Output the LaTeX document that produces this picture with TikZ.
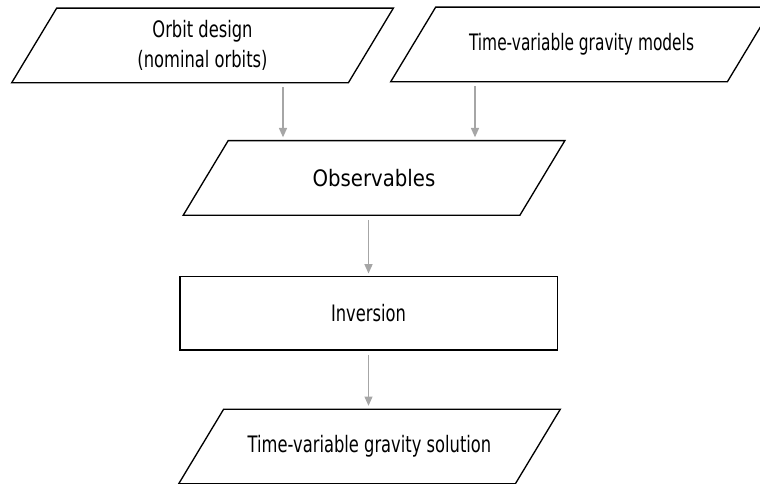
\documentclass[tikz,border=0pt]{standalone}
\usepackage{fontspec}
\setmainfont{DejaVu Sans}
\newfontfamily\slimfont{DejaVu Sans}[FakeStretch=0.72]
\newfontfamily\slimmerfont{DejaVu Sans}[FakeStretch=0.68]
\newfontfamily\widefont{DejaVu Sans}[FakeStretch=0.87]
\usetikzlibrary{arrows.meta,calc}

% slanted outline round a named node
\newcommand{\slantframe}[1]{%
        \draw[frame] ($(#1.north west)+(22.5, 0)$) -- ($(#1.north east)+(22.5, 0)$)
                -- ($(#1.south east)+(-22.5, 0)$) -- ($(#1.south west)+(-22.5, 0)$) -- cycle;}

\begin{document}
\begin{tikzpicture}[x=0.75pt, y=-0.75pt]
        \tikzstyle{frame}=[draw, line width=1pt, line join=miter]
        \tikzstyle{databox}=[shape=rectangle, minimum width=252.5pt, minimum height=56pt, inner sep=0pt,
                outer sep=0pt, align=center, font=\fontsize{17}{22.5}\selectfont\slimfont]
        \tikzstyle{stepbox}=[shape=rectangle, draw, line width=1pt, minimum width=283pt, minimum height=55pt,
                inner sep=0pt, outer sep=0pt, font=\fontsize{17}{22.5}\selectfont\slimfont]
        \tikzstyle{flow}=[draw=black!35, line width=1pt, -{Triangle[length=7pt,width=6pt]},
                shorten <=3.5pt, shorten >=2.5pt]
        \useasboundingbox (0, 0) rectangle (760, 484);
        \clip (0, 0) rectangle (760, 484);

        % the two inputs on top
        \node[databox] at (202.5, 45.5) (orbit) {Orbit design\\(nominal orbits)};
        \node[databox, font=\fontsize{17}{22.5}\selectfont\slimmerfont] at (581.5, 44.5) (models)
                {Time-variable gravity models};

        % what gets measured
        \node[databox, font=\fontsize{17}{22.5}\selectfont\widefont] at (374, 178) (obs) {Observables};

        % the processing step
        \node[stepbox] at (368.5, 313.5) (inv) {Inversion};

        % the result
        \node[databox] at (369.5, 446.5) (sol) {Time-variable gravity solution};

        % parallelogram outlines for the data
        \slantframe{orbit}
        \slantframe{models}
        \slantframe{obs}
        \slantframe{sol}

        % inputs feed the observables
        \coordinate (in1) at ($(obs.north)+(-91, 0)$);
        \coordinate (in2) at ($(obs.north)+(101, 0)$);
        \draw[flow] (in1 |- orbit.south) -- (in1);
        \draw[flow] (in2 |- models.south) -- (in2);

        % down through the chain
        \draw[flow] (inv.north |- obs.south) -- (inv.north);
        \draw[flow] (inv.south) -- (inv.south |- sol.north);
    \end{tikzpicture}
\end{document}
